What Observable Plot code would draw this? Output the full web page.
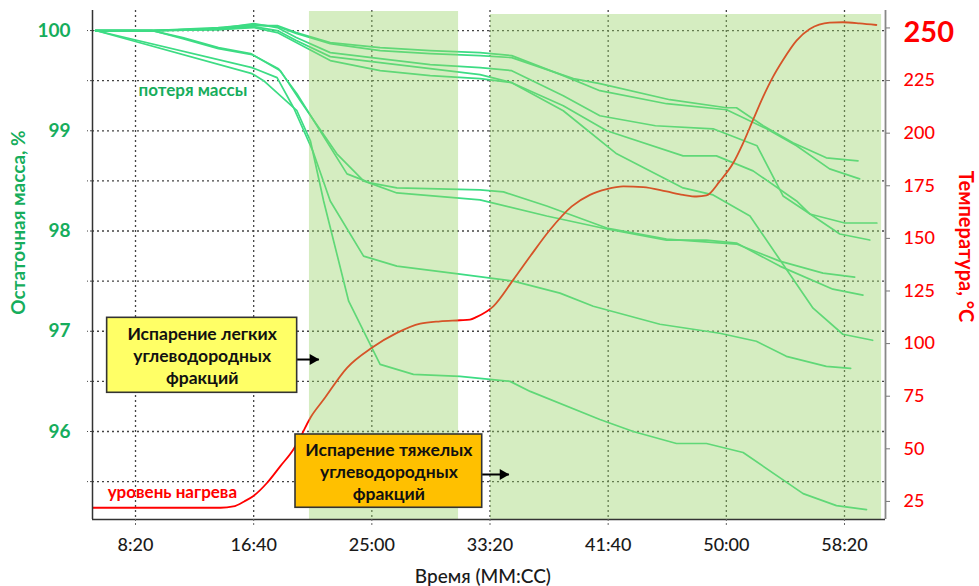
<!DOCTYPE html>
<html>
<head>
<meta charset="utf-8">
<script src="https://cdn.jsdelivr.net/npm/d3@7"></script>
<script src="https://cdn.jsdelivr.net/npm/@observablehq/plot@0.6"></script>
<style>
  html, body { margin: 0; padding: 0; background: #fff; }
  svg { display: block; }
</style>
</head>
<body>
<div id="chart"></div>
<script>
// ---- data (time in seconds, residual mass in %) ----
const A1 = [[331,100],[570,100],[850,100.02],[1000,100.05],[1100,100.05],[1180,99.98],[1324,99.88],[1535,99.83],[1747,99.8],[1958,99.78],[2092,99.75],[2310,99.55],[2465,99.40],[2747,99.27],[3001,99.21],[3170,99.02],[3297,98.85],[3437,98.62],[3564,98.52]];
const A2 = [[331,100],[570,100],[850,100.03],[1000,100.06],[1100,100.04],[1180,99.97],[1324,99.87],[1535,99.8],[1747,99.77],[1958,99.75],[2092,99.73],[2353,99.52],[2465,99.47],[2761,99.31],[3001,99.23],[3043,99.23],[3156,99.05],[3282,98.88],[3423,98.73],[3557,98.7]];
const A3 = [[331,100],[570,100],[850,100.02],[1000,100.07],[1100,100.03],[1180,99.93],[1324,99.78],[1535,99.72],[1747,99.66],[1958,99.63],[2092,99.6],[2310,99.35],[2465,99.15],[2700,99.05],[2944,99.02],[3130,98.85],[3240,98.35],[3367,98.15],[3480,97.97],[3607,97.91]];
const A4 = [[331,100],[570,100],[850,100.01],[1000,100.04],[1100,100.0],[1180,99.9],[1324,99.74],[1535,99.68],[1747,99.62],[1958,99.56],[2092,99.48],[2310,99.25],[2494,99.0],[2817,98.75],[2958,98.75],[3113,98.6],[3297,98.3],[3353,98.17],[3501,98.08],[3637,98.08]];
const A5 = [[331,100],[570,100],[850,100.01],[1000,100.03],[1100,99.98],[1180,99.88],[1324,99.7],[1535,99.6],[1747,99.55],[1958,99.52],[2092,99.48],[2310,99.2],[2536,98.77],[2817,98.43],[2944,98.36],[3100,98.15],[3367,97.23],[3493,96.97],[3619,96.91]];
const B1 = [[331,100],[570,100],[700,99.93],[851,99.83],[987,99.77],[1113,99.6],[1197,99.3],[1352,98.77],[1465,98.5],[1606,98.38],[1958,98.31],[2240,98.15],[2494,98.02],[2747,97.91],[2916,97.91],[3043,97.88],[3226,97.65],[3451,97.42],[3578,97.36]];
const B2 = [[331,100],[570,100],[700,99.92],[851,99.82],[993,99.76],[1105,99.62],[1183,99.37],[1395,98.57],[1493,98.48],[1606,98.43],[1958,98.41],[2057,98.39],[2240,98.25],[2494,98.03],[2747,97.92],[3043,97.87],[3226,97.7],[3409,97.58],[3543,97.54]];
const B3 = [[331,100],[993,99.63],[1099,99.53],[1169,99.23],[1250,98.8],[1324,98.3],[1465,97.75],[1606,97.65],[1873,97.57],[2099,97.5],[2296,97.38],[2437,97.25],[2719,97.07],[2972,96.98],[3127,96.9],[3254,96.75],[3423,96.65],[3526,96.63]];
const B4 = [[331,100],[993,99.57],[1042,99.5],[1183,99.2],[1240,98.9],[1296,98.3],[1402,97.3],[1535,96.67],[1676,96.57],[1873,96.55],[2085,96.5],[2170,96.4],[2465,96.12],[2606,96.0],[2789,95.88],[2916,95.88],[3071,95.79],[3325,95.38],[3466,95.26],[3593,95.22]];

// temperature (time s, °C)
const temperature = [[320,22],[860,22],[914,22.6],[960,25],[999,27.6],[1058,34],[1113,41.8],[1168,49.7],[1197,55.4],[1240,64.8],[1296,73.4],[1395,88.5],[1500,98],[1606,105.1],[1705,109.5],[1789,110.6],[1873,111.1],[1915,111.4],[1944,112.7],[2014,117.7],[2099,130.4],[2170,141.5],[2254,154.1],[2346,165.2],[2423,170.7],[2494,173.4],[2564,174.7],[2648,174.4],[2747,172.3],[2817,170.7],[2874,169.9],[2916,170.4],[2972,177.1],[3029,185.8],[3071,195.3],[3113,206.3],[3156,217.4],[3198,226.9],[3240,234.8],[3297,244],[3353,249.5],[3437,252.5],[3493,252.7],[3564,252.2],[3635,251.4]];

// shaded phases (time s)
const phaseStart = [1236, 2002];
const phaseEnd = [1867, 3657];
const phaseTop = [100.19, 100.16];

// ticks
const xTicks = [500, 1000, 1500, 2000, 2500, 3000, 3500];
const xTickLabels = ["8:20", "16:40", "25:00", "33:20", "41:40", "50:00", "58:20"];
const massGrid = [95.5, 96, 96.5, 97, 97.5, 98, 98.5, 99, 99.5, 100];
const tempTicks = [25, 50, 75, 100, 125, 150, 175, 200, 225, 250];

// annotation boxes (time s, mass %)
const boxText = ["Испарение легких\nуглеводородных\nфракций", "Испарение тяжелых\nуглеводородных\nфракций"];
const boxT1 = [380, 1177];
const boxT2 = [1184, 1967];
const boxTopM = [97.134, 95.97];
const boxBottomM = [96.386, 95.239];
const arrowTip = [1276, 2080];
const arrowM = [96.718, 95.571];

const seriesLabels = ["потеря массы", "уровень нагрева"];
const seriesLabelT = [513, 382];
const seriesLabelM = [99.40, 95.39];

// axis titles (anchor positions in time s / mass %)
const axisTitles = ["Время (ММ:СС)", "Остаточная масса, %", "Температура, °С"];
const axisTitleT = [1970, 5, 4012];
const axisTitleM = [94.55, 98.085, 97.845];

// ---- helpers ----
const massSeries = {A1, A2, A3, A4, A5, B1, B2, B3, B4};
const massRows = Object.entries(massSeries).flatMap(([s, pts]) => pts.map(([t, m]) => ({s, t, m})));
const tempRows = temperature.map(([t, T]) => ({t, T}));
// right axis mapping: temperature -> mass-scale position
const toMass = T => 100.0259 - (250 - T) * 0.020994;
const fromMass = m => 250 - (100.0259 - m) / 0.020994;

const xDomain = [318, 3673.5];
const yDomain = [95.122, 100.2];
const green = "#16ad5c";
const lineGreen = "#3ddc84";

const phases = phaseStart.map((s, i) => ({x1: s, x2: phaseEnd[i], top: phaseTop[i]}));
const boxes = boxText.map((text, i) => ({text, x1: boxT1[i], x2: boxT2[i], y1: boxBottomM[i], y2: boxTopM[i], tip: arrowTip[i], ay: arrowM[i]}));
const labels = seriesLabels.map((text, i) => ({text, t: seriesLabelT[i], m: seriesLabelM[i]}));
const titles = axisTitles.map((text, i) => ({text, t: axisTitleT[i], m: axisTitleM[i]}));

const chart = Plot.plot({
  width: 979,
  height: 586,
  marginLeft: 92,
  marginRight: 94,
  marginTop: 10,
  marginBottom: 67,
  style: {fontFamily: "Lato, 'Open Sans', sans-serif", background: "#fff", overflow: "visible"},
  x: {domain: xDomain},
  y: {domain: yDomain},
  marks: [
    Plot.ruleY(massGrid, {stroke: "#444", strokeWidth: 1.3, strokeDasharray: "2,3"}),
    Plot.ruleX(xTicks, {stroke: "#444", strokeWidth: 1.3, strokeDasharray: "2,3"}),
    Plot.line(massRows, {x: "t", y: "m", z: "s", stroke: lineGreen, strokeWidth: 1.7}),
    Plot.line(tempRows, {x: "t", y: d => toMass(d.T), stroke: "#ff0000", strokeWidth: 1.8, curve: "monotone-x"}),
    Plot.rect(phases, {x1: "x1", x2: "x2", y1: yDomain[0], y2: "top", fill: "rgb(150,210,100)", fillOpacity: 0.4}),
    // axis lines
    Plot.ruleX([xDomain[0]], {stroke: "#333", strokeWidth: 1.5}),
    Plot.ruleX([xDomain[1]], {stroke: "#888", strokeWidth: 1.8}),
    Plot.ruleY([yDomain[0]], {stroke: "#333", strokeWidth: 1.5}),
    Plot.axisX({ticks: xTicks, tickFormat: (d) => xTickLabels[xTicks.indexOf(d)], tickSize: 8, tickPadding: 11,
      fontSize: 18, fontWeight: 500, fill: "#1a1a1a", stroke: "#666", strokeDasharray: "2,2", label: null}),
    Plot.axisY({anchor: "left", ticks: massGrid, tickFormat: d => (Math.abs(d - Math.round(d)) < 1e-9 ? String(Math.round(d)) : ""),
      tickSize: 5, tickPadding: 17, fontSize: 19, fontWeight: "bold", fill: green, stroke: "#444", strokeDasharray: "2,2", label: null}),
    Plot.axisY({anchor: "right", ticks: tempTicks.map(toMass), tickFormat: d => { const T = Math.round(fromMass(d)); return T === 250 ? "" : String(T); },
      tickSize: 4, tickPadding: 14, fontSize: 18, fontWeight: 500, fill: "#ff0000", stroke: "#777", label: null}),
    Plot.text([250], {x: () => xDomain[1], y: d => toMass(d), text: d => String(d), dx: 18, dy: 5, textAnchor: "start", fontSize: 29, fontWeight: "bold", fill: "#ff0000"}),
    // axis titles
    Plot.text([titles[0]], {x: "t", y: "m", text: "text", fontSize: 19, fontWeight: 500, fill: "#1a1a1a"}),
    Plot.text([titles[1]], {x: "t", y: "m", text: "text", rotate: -90, fontSize: 19, fontWeight: "bold", fill: green}),
    Plot.text([titles[2]], {x: "t", y: "m", text: "text", rotate: 90, fontSize: 20, fontWeight: "bold", fill: "#ff0000"}),
    // series labels
    Plot.text(labels, {x: "t", y: "m", text: "text", textAnchor: "start", fontSize: 17, fontWeight: "bold",
      fill: (d) => d.text === seriesLabels[0] ? green : "#ff0000"}),
    // annotation boxes
    Plot.rect([boxes[0]], {x1: "x1", x2: "x2", y1: "y1", y2: "y2", fill: "#ffff66", stroke: "#333", strokeWidth: 1.6}),
    Plot.rect([boxes[1]], {x1: "x1", x2: "x2", y1: "y1", y2: "y2", fill: "#ffc000", stroke: "#333", strokeWidth: 1.6}),
    Plot.text(boxes, {x: d => (d.x1 + d.x2) / 2, y: d => (d.y1 + d.y2) / 2, text: "text", fontSize: 17.5, fontWeight: "bold", fill: "#111", lineHeight: 1.25}),
    Plot.link(boxes, {x1: "x2", x2: "tip", y1: "ay", y2: "ay", stroke: "#000", strokeWidth: 2}),
    Plot.dot(boxes, {x: "tip", y: "ay", symbol: "triangle", r: 4.1, rotate: 90, fill: "#000", stroke: "none", dx: -6})
  ]
});
document.getElementById("chart").appendChild(chart);
</script>
</body>
</html>
